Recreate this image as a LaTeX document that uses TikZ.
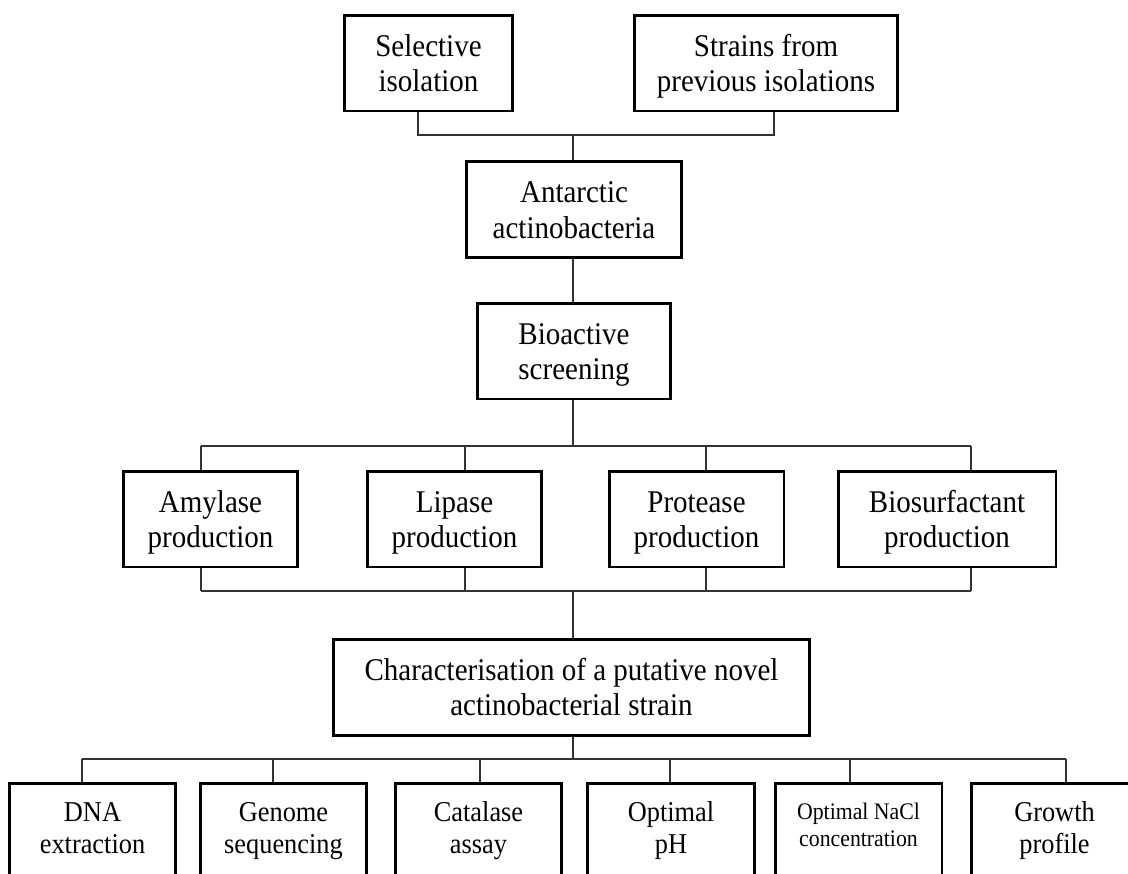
\documentclass[tikz,border=0pt]{standalone}
\usepackage{fontspec}
\setmainfont{Liberation Serif}

% the printed text is a little taller than it is wide
\newcommand*{\tall}[2][-2.2pt]{\raisebox{#1}[\height][\depth]{\scalebox{1}[1.09]{\begin{tabular}{@{}c@{}}#2\end{tabular}}}}

\tikzset{
	stage/.style={draw, line width=1.7pt, align=center, inner sep=0pt, minimum height=1.92cm, font=\fontsize{16.5}{18.5}\selectfont},
	testbox/.style={stage, minimum width=3.34cm, font=\fontsize{15}{16.6}\selectfont},
	link/.style={line width=0.7pt, draw=black!80},
}

\begin{document}
\begin{tikzpicture}[x=0.02cm, y=-0.02cm]
	\useasboundingbox (0,0) rectangle (1128,873);
	\clip (0,0) rectangle (1128,873);

	%sources and isolates
	\node[stage, minimum width=3.38cm] (sel) at (428.5,63) {\tall{Selective\\isolation}};
	\node[stage, minimum width=5.28cm] (strains) at (766,63) {\tall{Strains from\\previous isolations}};
	\node[stage, minimum width=4.32cm] (antarctic) at (574,209.5) {\tall{Antarctic\\actinobacteria}};
	\node[stage, minimum width=3.86cm] (bioactive) at (574,351) {\tall{Bioactive\\screening}};

	%screening results
	\foreach \x / \w / \n / \t in {210.5/3.5/amy/Amylase,454.5/3.5/lip/Lipase,696.5/3.5/pro/Protease,947/4.36/bio/Biosurfactant}{
	\node[stage, minimum width=\w cm] (\n) at (\x,519) {\tall{\t\\production}};}

	\node[stage, minimum width=9.54cm] (char) at (571.5,687) {\tall{Characterisation of a putative novel\\actinobacterial strain}};

	%characterisation tests (cut off at the bottom)
	\foreach \x / \n / \t in {92.5/dna/DNA\\extraction,283.5/gen/Genome\\sequencing,478.5/cat/Catalase\\assay,671/ph/Optimal\\pH,1054.5/grow/Growth\\profile}{
	\node[testbox] (\n) at (\x,831) {\tall[0pt]{\t}};}
	\node[testbox, font=\fontsize{12.4}{13.9}\selectfont] (nacl) at (858.5,831) {\tall[2pt]{Optimal NaCl\\concentration}};

	%define coordinates for joints
	\coordinate (t1) at (418,135); \coordinate (t2) at (774,135); \coordinate (t0) at (573,135);
	\draw[link] (sel.south -| t1) -- (t1) -- (t2) -- (strains.south -| t2);
	\draw[link] (t0) -- (antarctic.north -| t0);
	\draw[link] (antarctic.south -| t0) -- (bioactive.north -| t0);

	\coordinate (m0) at (573,446); \coordinate (m1) at (573,591);
	\foreach \x / \n in {201/amy,465/lip,706/pro,971/bio}{
	\coordinate (a\n) at (\x,446); \coordinate (b\n) at (\x,591);
	\draw[link] (a\n) -- (\n.north -| a\n);
	\draw[link] (\n.south -| b\n) -- (b\n);}
	\draw[link] (bioactive.south -| m0) -- (m0);
	\draw[link] (aamy) -- (abio);
	\draw[link] (bamy) -- (bbio);
	\draw[link] (m1) -- (char.north -| m1);

	\coordinate (c0) at (573,759);
	\draw[link, line width=1.1pt] (char.south -| c0) -- (c0);
	\foreach \x / \n in {82/dna,273/gen,480/cat,670/ph,850/nacl,1066/grow}{
	\coordinate (c\n) at (\x,759);
	\draw[link] (c\n) -- (\n.north -| c\n);}
	\draw[link] (cdna) -- (cgrow);

\end{tikzpicture}
\end{document}
